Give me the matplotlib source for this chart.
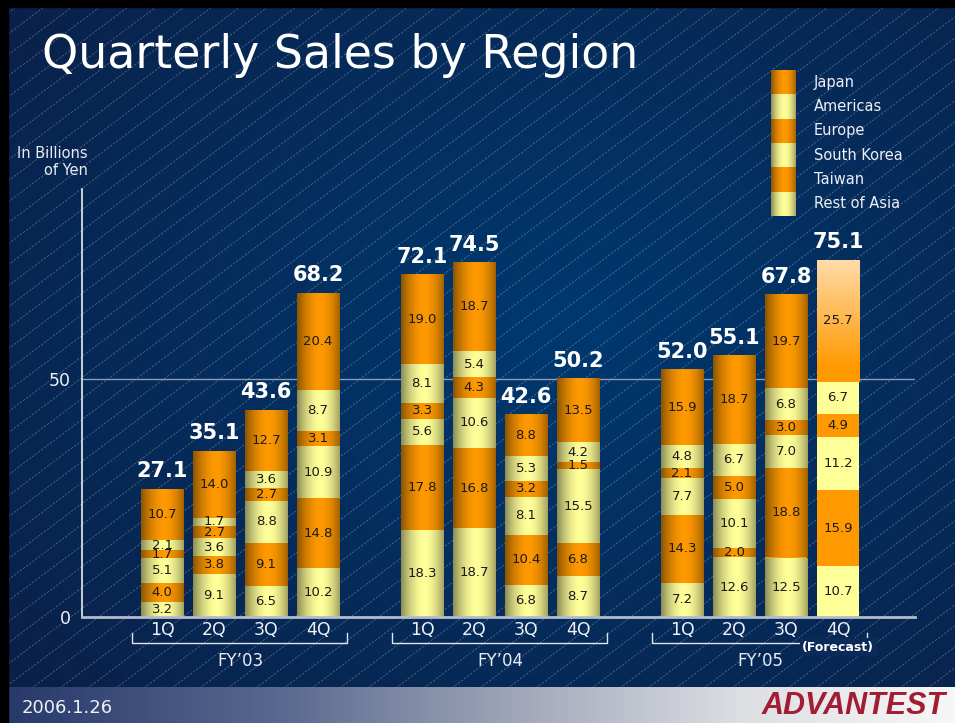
import matplotlib.pyplot as plt
import numpy as np
from matplotlib.colors import to_rgb
from matplotlib.collections import LineCollection

W, H = 955, 723

# stacking order, bottom to top
regions = ['Rest of Asia', 'Taiwan', 'South Korea', 'Europe', 'Americas', 'Japan']
quarters = ['1Q', '2Q', '3Q', '4Q'] * 3
years = ['FY’03', 'FY’04', 'FY’05']

rest_of_asia = [3.2, 9.1, 6.5, 10.2, 18.3, 18.7, 6.8, 8.7, 7.2, 12.6, 12.5, 10.7]
taiwan = [4.0, 3.8, 9.1, 14.8, 17.8, 16.8, 10.4, 6.8, 14.3, 2.0, 18.8, 15.9]
south_korea = [5.1, 3.6, 8.8, 10.9, 5.6, 10.6, 8.1, 15.5, 7.7, 10.1, 7.0, 11.2]
europe = [1.7, 2.7, 2.7, 3.1, 3.3, 4.3, 3.2, 1.5, 2.1, 5.0, 3.0, 4.9]
americas = [2.1, 1.7, 3.6, 8.7, 8.1, 5.4, 5.3, 4.2, 4.8, 6.7, 6.8, 6.7]
japan = [10.7, 14.0, 12.7, 20.4, 19.0, 18.7, 8.8, 13.5, 15.9, 18.7, 19.7, 25.7]
totals = [27.1, 35.1, 43.6, 68.2, 72.1, 74.5, 42.6, 50.2, 52.0, 55.1, 67.8, 75.1]

series = [rest_of_asia, taiwan, south_korea, europe, americas, japan]
ORANGE = '#FF9900'
YELLOW = '#FFFF99'
seg_colors = [YELLOW, ORANGE, YELLOW, ORANGE, YELLOW, ORANGE]

xpos = np.array([g * 5 + q for g in range(3) for q in range(4)])
forecast_idx = 11


def cyl(color, n=64):
    # horizontal cylinder-like shading, darker at the left edge
    t = np.linspace(0, 1, n)
    u = np.where(t < 0.55, (0.55 - t) / 0.55, (t - 0.55) / 0.45)
    k = np.where(t < 0.55, 0.45, 0.36)
    f = 1 - k * u ** 1.8
    c = np.array(to_rgb(color))
    return (c[None, :] * f[:, None])[None, :, :]


def fx(px):
    return px / W


def fy(py):
    return 1 - py / H


fig = plt.figure(figsize=(W / 100, H / 100), dpi=100)
fig.patch.set_facecolor('#002a5c')

# background
bg = fig.add_axes([0, 0, 1, 1], zorder=-5)
bg.axis('off')
yy, xx = np.mgrid[0:H:4, 0:W:4]
d = np.sqrt(((xx - 560) / W) ** 2 + ((yy - 330) / H) ** 2)
d = np.clip(d / 0.75, 0, 1)[..., None]
c_in = np.array(to_rgb('#00396f'))
c_out = np.array(to_rgb('#0a2049'))
bg.imshow(c_in * (1 - d) + c_out * d, extent=(0, W, H, 0), aspect='auto',
          interpolation='bilinear', zorder=0)

slope = 0.75
segs = []
for x0 in np.arange(-1200, W + 30, 28):
    segs.append([(x0, 688), (x0 + 688 / slope, 0)])
bg.add_collection(LineCollection(segs, colors='white', linewidths=0.6,
                                 alpha=0.28, linestyles=(0, (3, 1.5)), zorder=1))

# footer
grad = np.linspace(0, 1, 256)
stops = [(0.0, '#26386a'), (0.3, '#5a6a90'), (0.55, '#a3a9bb'),
         (0.78, '#dedfe3'), (1.0, '#f7f7f7')]
cols = np.zeros((256, 3))
for i in range(3):
    cols[:, i] = np.interp(grad, [s[0] for s in stops], [to_rgb(s[1])[i] for s in stops])
bg.imshow(cols[None, :, :], extent=(0, W, H, 687), aspect='auto', zorder=2)
bg.add_patch(plt.Rectangle((0, 0), 8, H, color='black', zorder=3))
bg.add_patch(plt.Rectangle((0, 0), W, 7, color='black', zorder=3))
bg.set_xlim(0, W)
bg.set_ylim(H, 0)

fig.text(fx(22), fy(708), '2006.1.26', color='#eef0f5', fontsize=13, va='center')
fig.text(fx(946), fy(706), 'ADVANTEST', color='#a21d33', fontsize=22,
         family='Liberation Sans', weight='bold', style='italic',
         ha='right', va='center')

fig.text(fx(42), fy(68), 'Quarterly Sales by Region', color='white', fontsize=33,
         va='baseline')
fig.text(fx(88), fy(162), 'In Billions\nof Yen', color='#e8ecf2', fontsize=10.5,
         ha='right', va='center', linespacing=1.15)

# main axes
ax = fig.add_axes([fx(82), fy(617), fx(915) - fx(82), fy(188.6) - fy(617)])
ax.set_facecolor('none')

bottom = np.zeros(len(xpos))
for si, (vals, col) in enumerate(zip(series, seg_colors)):
    vals = np.array(vals)
    bars = ax.bar(xpos, vals, bottom=bottom, width=0.81, color=col,
                  linewidth=0, zorder=2)
    for i, rect in enumerate(bars):
        x0, y0 = rect.get_x(), rect.get_y()
        w, h = rect.get_width(), rect.get_height()
        if i == forecast_idx:
            if si == len(series) - 1:
                # forecast Japan segment fades to pale orange at the top
                t = np.linspace(0, 1, 128)
                top = np.array(to_rgb('#ffdcaa'))
                bot = np.array(to_rgb(ORANGE))
                m = np.clip((t - 0.12) / 0.88, 0, 1)[:, None]
                vg = bot * (1 - m) + top * m
                img = ax.imshow(vg[:, None, :], extent=(x0, x0 + w, y0, y0 + h),
                                origin='lower', aspect='auto', zorder=2.5)
                img.set_clip_path(rect)
        else:
            img = ax.imshow(cyl(col), extent=(x0, x0 + w, y0, y0 + h),
                            aspect='auto', interpolation='bilinear', zorder=2.5)
            img.set_clip_path(rect)
        ax.text(xpos[i], y0 + h / 2, f'{vals[i]:.1f}', ha='center', va='center',
                fontsize=9.5, color='#1a1a1a', zorder=4)
    bottom += vals

for x, tot in zip(xpos, totals):
    ax.annotate(f'{tot:.1f}', (x, tot), xytext=(0, 8), textcoords='offset points',
                ha='center', va='baseline', color='white', fontsize=15,
                weight='bold', zorder=4)

ax.set_xlim(-1.54, 14.48)
ax.set_ylim(0, 90)
ax.axhline(50, color='#8c9ab4', lw=1, zorder=1)
ax.axhline(0, color='#b4bccc', lw=2, zorder=3, clip_on=False)

for s in ['top', 'right', 'bottom']:
    ax.spines[s].set_visible(False)
ax.spines['left'].set_color('#e8ecf2')
ax.spines['left'].set_linewidth(1.2)

ax.set_yticks([0, 50])
ax.set_yticklabels(['0', '50'])
ax.tick_params(axis='y', length=0, pad=8, labelcolor='#eef0f5', labelsize=12.5)
ax.set_xticks(xpos)
ax.set_xticklabels(quarters)
ax.tick_params(axis='x', length=0, pad=3, labelcolor='#eef0f5', labelsize=12.5)

# year brackets
for g, yr in enumerate(years):
    a, b = g * 5 - 0.57, g * 5 + 3.55
    ax.plot([a, a, b, b], [-3.4, -5.5, -5.5, -3.4], color='#dfe4ec', lw=1,
            clip_on=False, zorder=3)
    ax.text(g * 5 + 1.5, -9.2, yr, ha='center', va='center', color='#e8ecf2',
            fontsize=12)
ax.text(xpos[forecast_idx], -6.4, '(Forecast)', ha='center', va='center',
        color='white', fontsize=9, weight='bold', zorder=5,
        bbox=dict(boxstyle='square,pad=0.2', fc='#0b2a5a', ec='none'))

# legend
lax = fig.add_axes([fx(771), fy(216), fx(796) - fx(771), fy(70) - fy(216)])
labels_top = regions[::-1]
cols_top = seg_colors[::-1]
lbars = lax.bar([0.5] * 6, [1] * 6, bottom=np.arange(6)[::-1], width=1,
                color=cols_top, linewidth=0, zorder=1)
for rect, col in zip(lbars, cols_top):
    x0, y0 = rect.get_x(), rect.get_y()
    img = lax.imshow(cyl(col), extent=(x0, x0 + 1, y0, y0 + 1), aspect='auto',
                     interpolation='bilinear', zorder=2)
    img.set_clip_path(rect)
lax.set_xlim(0, 1)
lax.set_ylim(0, 6)
lax.axis('off')
for k, lab in enumerate(labels_top):
    lax.text(1 + 18 / 25, 5.5 - k, lab, color='#eef0f5', fontsize=10.5,
             va='center', ha='left', clip_on=False)

fig.savefig('out.png', dpi=100, facecolor=fig.get_facecolor())
